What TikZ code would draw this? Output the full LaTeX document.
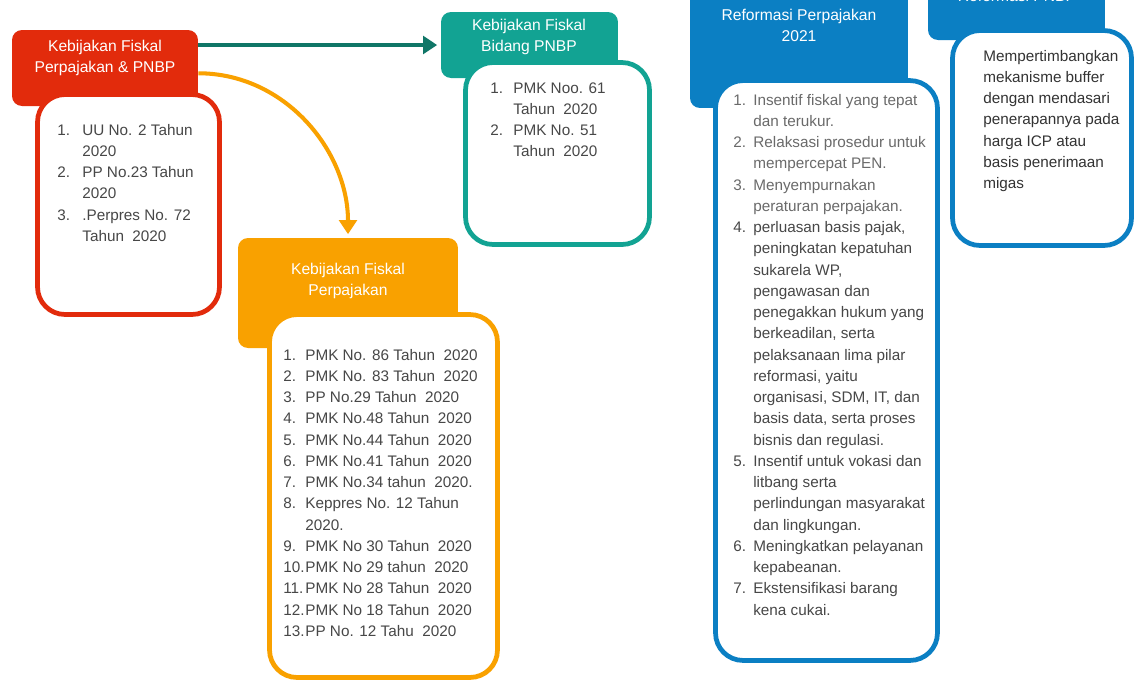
\documentclass[tikz,border=0pt]{standalone}
\usepackage{fontspec}
\setmainfont{Liberation Sans}
\usetikzlibrary{arrows.meta,positioning}

\definecolor{redfk}{HTML}{E22B0C}
\definecolor{tealfk}{HTML}{12A393}
\definecolor{tealarr}{HTML}{0F7667}
\definecolor{orangefk}{HTML}{F9A100}
\definecolor{bluefk}{HTML}{0B7FC3}
\definecolor{txtgray}{HTML}{474747}
\definecolor{txtlight}{HTML}{6A6A6A}

\begin{document}
\begin{tikzpicture}[x=0.02cm, y=-0.02cm,
        header/.style={fill=#1, rounded corners=0.2cm, inner sep=0pt},
        bodybox/.style={draw=#1, fill=white, line width=2.7pt, rounded corners=0.55cm, inner sep=0pt},
        title/.style={text=white, align=center, inner sep=0pt, font=\fontsize{8.9}{11.9}\selectfont},
        listtxt/.style={text=txtgray, anchor=base west, inner sep=0pt, font=\fontsize{8.7}{12.1}\selectfont},
        arrow/.style={line width=2.6pt, -{Triangle[length=8pt,width=10pt]}}
    ]
    \useasboundingbox (0,0) rectangle (1136,681);
    \clip (0,0) rectangle (1136,681);
    \fill[white] (0,0) rectangle (1136,681);

    % ---- header (kotak judul) ----
    \node[header=redfk, minimum width=3.72cm, minimum height=1.52cm] (redhead) at (105,68) {};
    \node[header=tealfk, minimum width=3.54cm, minimum height=1.32cm] (tealhead) at (529.5,45) {};
    \node[header=orangefk, minimum width=4.4cm, minimum height=2.2cm] (orangehead) at (348,293) {};
    \node[header=bluefk, minimum width=4.36cm, minimum height=2.76cm] (reformhead) at (799,39) {};
    \node[header=bluefk, minimum width=3.54cm, minimum height=1.4cm] (pnbphead) at (1016.5,5) {};

    % ---- body (kotak isi) ----
    \node[bodybox=redfk, minimum width=3.64cm, minimum height=4.4cm] (redbody) at (128.5,204.5) {};
    \node[bodybox=tealfk, minimum width=3.68cm, minimum height=3.64cm] (tealbody) at (557.5,153.5) {};
    \node[bodybox=orangefk, minimum width=4.56cm, minimum height=7.26cm] (orangebody) at (383.5,496) {};
    \node[bodybox=bluefk, minimum width=4.44cm, minimum height=11.6cm] (reformbody) at (826.5,370.5) {};
    \node[bodybox=bluefk, minimum width=3.58cm, minimum height=4.3cm] (pnbpbody) at (1042,138) {};

    % Panah
    \draw[arrow, tealarr, shorten >=2pt] (redhead.east |- tealhead.west) -- (tealhead.west);
    \draw[arrow, orangefk, line width=2.3pt, shorten >=2pt] ([yshift=-3pt]redhead.east) to[out=0, in=90] (orangehead.north);

    % Judul
    \node[title] (redtitle) at (105,58) {Kebijakan Fiskal\\Perpajakan \& PNBP};
    \node[title] (tealtitle) at (529,37) {Kebijakan Fiskal\\Bidang PNBP};
    \node[title] (orangetitle) at (348,281) {Kebijakan Fiskal\\Perpajakan};
    \node[title] (reformtitle) at (799,25) {Reformasi Perpajakan\\2021};
    \node[title] (pnbptitle) at (1017,-4) {Reformasi PNBP};

    % Isi daftar
    \node[listtxt] (redlist) at (57,135) {\begin{tabular}[t]{@{}p{0.5cm}@{}l@{}}
        1. & UU No. 2 Tahun\\
           & 2020\\
        2. & PP No.23 Tahun\\
           & 2020\\
        3. & .Perpres No. 72\\
           & Tahun\ \ 2020
    \end{tabular}};

    \node[listtxt] (teallist) at (490,93) {\begin{tabular}[t]{@{}p{0.46cm}@{}l@{}}
        1. & PMK Noo. 61\\
           & Tahun\ \ 2020\\
        2. & PMK No. 51\\
           & Tahun\ \ 2020
    \end{tabular}};

    \node[listtxt] (orangelist) at (283,360) {\begin{tabular}[t]{@{}p{0.44cm}@{}l@{}}
        1. & PMK No. 86 Tahun\ \ 2020\\
        2. & PMK No. 83 Tahun\ \ 2020\\
        3. & PP No.29 Tahun\ \ 2020\\
        4. & PMK No.48 Tahun\ \ 2020\\
        5. & PMK No.44 Tahun\ \ 2020\\
        6. & PMK No.41 Tahun\ \ 2020\\
        7. & PMK No.34 tahun\ \ 2020.\\
        8. & Keppres No. 12 Tahun\\
           & 2020.\\
        9. & PMK No 30 Tahun\ \ 2020\\
        10. & PMK No 29 tahun\ \ 2020\\
        11. & PMK No 28 Tahun\ \ 2020\\
        12. & PMK No 18 Tahun\ \ 2020\\
        13. & PP No. 12 Tahu\ \ 2020
    \end{tabular}};

    \node[listtxt] (reformlist) at (733,105) {\begin{tabular}[t]{@{}p{0.4cm}@{}l@{}}
        \textcolor{txtlight}{1.} & \textcolor{txtlight}{Insentif fiskal yang tepat}\\
           & \textcolor{txtlight}{dan terukur.}\\
        \textcolor{txtlight}{2.} & \textcolor{txtlight}{Relaksasi prosedur untuk}\\
           & \textcolor{txtlight}{mempercepat PEN.}\\
        \textcolor{txtlight}{3.} & \textcolor{txtlight}{Menyempurnakan}\\
           & \textcolor{txtlight}{peraturan perpajakan.}\\
        4. & perluasan basis pajak,\\
           & peningkatan kepatuhan\\
           & sukarela WP,\\
           & pengawasan dan\\
           & penegakkan hukum yang\\
           & berkeadilan, serta\\
           & pelaksanaan lima pilar\\
           & reformasi, yaitu\\
           & organisasi, SDM, IT, dan\\
           & basis data, serta proses\\
           & bisnis dan regulasi.\\
        5. & Insentif untuk vokasi dan\\
           & litbang serta\\
           & perlindungan masyarakat\\
           & dan lingkungan.\\
        6. & Meningkatkan pelayanan\\
           & kepabeanan.\\
        7. & Ekstensifikasi barang\\
           & kena cukai.
    \end{tabular}};

    \node[listtxt, text=black!80] (pnbplist) at (983,61) {\begin{tabular}[t]{@{}l@{}}
        Mempertimbangkan\\
        mekanisme buffer\\
        dengan mendasari\\
        penerapannya pada\\
        harga ICP atau\\
        basis penerimaan\\
        migas
    \end{tabular}};
\end{tikzpicture}
\end{document}
